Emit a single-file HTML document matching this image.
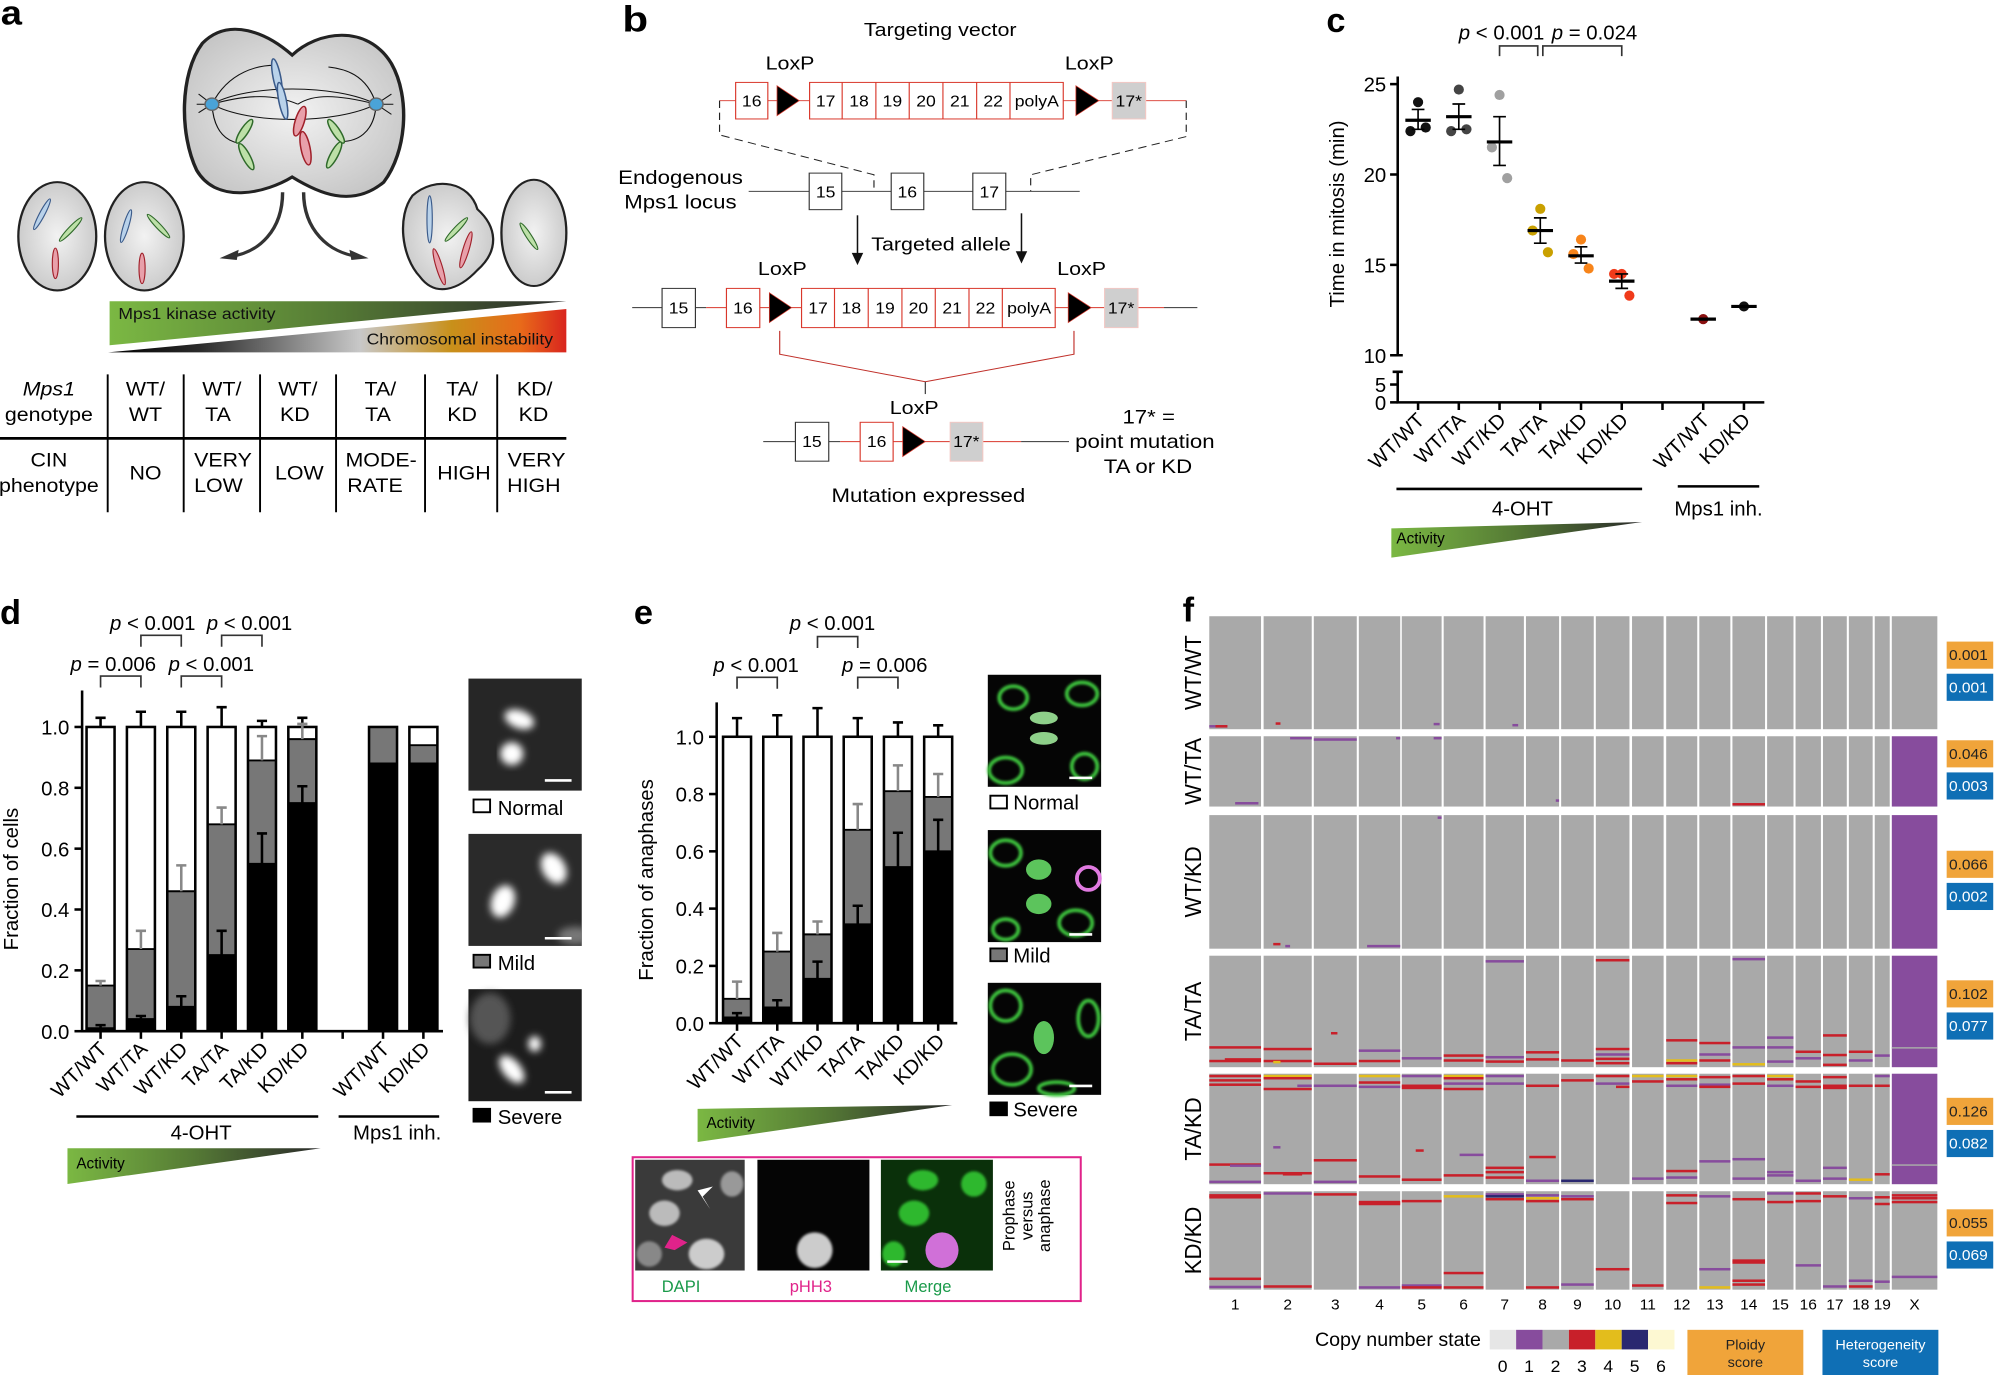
<!DOCTYPE html>
<html><head><meta charset="utf-8"><title>Mps1 figure</title>
<style>
html,body{margin:0;padding:0;background:#fff;}
svg{display:block;}
text{font-family:"Liberation Sans",Arial,sans-serif;}
</style></head>
<body>
<svg id="fig" xmlns="http://www.w3.org/2000/svg" width="1996" height="1375" viewBox="0 0 1568 1080">
<defs>
 <linearGradient id="gAct" x1="0" x2="1" y1="0" y2="0"><stop offset="0" stop-color="#7bb843"/><stop offset="0.5" stop-color="#557a35"/><stop offset="1" stop-color="#2a2a2a"/></linearGradient>
 <linearGradient id="gCin" x1="0" x2="1" y1="0" y2="0"><stop offset="0" stop-color="#000"/><stop offset="0.2" stop-color="#2b2b2b"/><stop offset="0.55" stop-color="#c8c8c8"/><stop offset="0.75" stop-color="#c8901a"/><stop offset="0.9" stop-color="#e86a1a"/><stop offset="1" stop-color="#d9251e"/></linearGradient>
 <radialGradient id="gCell" cx="0.5" cy="0.5" r="0.6"><stop offset="0" stop-color="#f2f2f2"/><stop offset="1" stop-color="#c4c4c4"/></radialGradient>
 <filter id="blur3"><feGaussianBlur stdDeviation="3"/></filter>
 <filter id="blur1"><feGaussianBlur stdDeviation="1"/></filter>
 <clipPath id="clipMild"><rect x="368" y="655" width="89" height="88"/></clipPath>
</defs>

<!-- ================= PANEL A ================= -->
<g id="panel-a" transform="translate(0,-6) scale(0.3,0.266)">
 <text x="2" y="95" font-size="100" font-weight="bold">a</text>
 <path d="M530,150 C600,70 700,120 765,185 C830,115 960,90 1025,210 C1075,310 1065,470 1005,560 C920,640 830,590 765,545 C700,590 570,630 515,525 C470,420 470,240 530,150Z" fill="url(#gCell)" stroke="#222" stroke-width="9"/>
 <g fill="none" stroke="#111" stroke-width="3">
  <path d="M555,330 C650,270 880,270 985,330"/><path d="M555,330 C650,390 880,390 985,330"/>
  <path d="M555,330 C600,230 680,215 720,215"/><path d="M985,330 C960,240 900,225 860,220"/>
  <path d="M555,330 C650,300 720,300 780,330"/><path d="M985,330 C880,300 820,300 780,330"/>
  <path d="M555,330 C560,420 600,440 625,445"/><path d="M985,330 C980,420 930,440 895,440"/>
  <path d="M555,330 L520,300 M555,330 L515,330 M555,330 L520,355"/><path d="M985,330 L1025,300 M985,330 L1030,330 M985,330 L1025,360"/>
 </g>
 <circle cx="555" cy="330" r="18" fill="#4aa3d8" stroke="#666" stroke-width="4"/>
 <circle cx="985" cy="330" r="18" fill="#4aa3d8" stroke="#666" stroke-width="4"/>
 <g stroke-width="4">
  <ellipse cx="725" cy="250" rx="10" ry="55" fill="#b9d2ea" stroke="#3a5a8a" transform="rotate(-10 725 250)"/>
  <ellipse cx="740" cy="320" rx="10" ry="55" fill="#b9d2ea" stroke="#3a5a8a" transform="rotate(-10 740 320)"/>
  <ellipse cx="785" cy="380" rx="12" ry="45" fill="#e8a0aa" stroke="#a0202a" transform="rotate(15 785 380)"/>
  <ellipse cx="800" cy="460" rx="12" ry="50" fill="#e8a0aa" stroke="#a0202a" transform="rotate(-10 800 460)"/>
  <ellipse cx="640" cy="410" rx="10" ry="40" fill="#bde0a8" stroke="#2f6a2a" transform="rotate(30 640 410)"/>
  <ellipse cx="645" cy="485" rx="10" ry="42" fill="#bde0a8" stroke="#2f6a2a" transform="rotate(-25 645 485)"/>
  <ellipse cx="880" cy="410" rx="10" ry="40" fill="#bde0a8" stroke="#2f6a2a" transform="rotate(-30 880 410)"/>
  <ellipse cx="875" cy="480" rx="10" ry="42" fill="#bde0a8" stroke="#2f6a2a" transform="rotate(25 875 480)"/>
 </g>
 <g fill="url(#gCell)" stroke="#222" stroke-width="6">
  <ellipse cx="150" cy="720" rx="102" ry="160"/>
  <ellipse cx="378" cy="720" rx="103" ry="160"/>
  <path d="M1080,600 C1140,540 1230,560 1250,640 C1300,690 1310,760 1250,820 C1200,880 1140,900 1100,840 C1050,780 1040,660 1080,600Z"/>
  <ellipse cx="1398" cy="710" rx="85" ry="157"/>
 </g>
 <g stroke-width="3">
  <ellipse cx="110" cy="655" rx="7" ry="50" fill="#b9d2ea" stroke="#3a5a8a" transform="rotate(25 110 655)"/>
  <ellipse cx="185" cy="700" rx="7" ry="45" fill="#bde0a8" stroke="#2f6a2a" transform="rotate(40 185 700)"/>
  <ellipse cx="145" cy="800" rx="8" ry="45" fill="#e8a0aa" stroke="#a0202a"/>
  <ellipse cx="330" cy="690" rx="7" ry="50" fill="#b9d2ea" stroke="#3a5a8a" transform="rotate(15 330 690)"/>
  <ellipse cx="415" cy="690" rx="7" ry="45" fill="#bde0a8" stroke="#2f6a2a" transform="rotate(-40 415 690)"/>
  <ellipse cx="372" cy="815" rx="8" ry="45" fill="#e8a0aa" stroke="#a0202a"/>
  <ellipse cx="1125" cy="670" rx="7" ry="70" fill="#b9d2ea" stroke="#3a5a8a"/>
  <ellipse cx="1150" cy="810" rx="8" ry="55" fill="#e8a0aa" stroke="#a0202a" transform="rotate(-15 1150 810)"/>
  <ellipse cx="1220" cy="760" rx="8" ry="55" fill="#e8a0aa" stroke="#a0202a" transform="rotate(15 1220 760)"/>
  <ellipse cx="1195" cy="700" rx="7" ry="45" fill="#bde0a8" stroke="#2f6a2a" transform="rotate(40 1195 700)"/>
  <ellipse cx="1385" cy="720" rx="7" ry="45" fill="#bde0a8" stroke="#2f6a2a" transform="rotate(-30 1385 720)"/>
 </g>
 <g fill="none" stroke="#333" stroke-width="9">
  <path d="M740,590 C740,700 680,770 600,780"/><path d="M795,590 C795,700 860,770 940,780"/>
 </g>
 <polygon points="575,785 625,760 620,790" fill="#333"/><polygon points="965,785 915,760 920,790" fill="#333"/>
 <polygon points="287,912 1483,912 287,1042" fill="url(#gAct)"/>
 <polygon points="283,1063 1483,935 1483,1063" fill="url(#gCin)"/>
 <text x="310" y="965" font-size="46" fill="#111">Mps1 kinase activity</text>
 <text x="1448" y="1040" font-size="46" fill="#111" text-anchor="end">Chromosomal instability</text>
 <g font-size="56" text-anchor="middle" fill="#000">
  <g stroke="#000" stroke-width="5">
   <line x1="282" y1="1128" x2="282" y2="1535"/><line x1="481" y1="1128" x2="481" y2="1535"/><line x1="681" y1="1128" x2="681" y2="1535"/>
   <line x1="880" y1="1128" x2="880" y2="1535"/><line x1="1113" y1="1128" x2="1113" y2="1535"/><line x1="1302" y1="1128" x2="1302" y2="1535"/>
   <line x1="0" y1="1317" x2="1483" y2="1317" stroke-width="8"/>
  </g>
  <text x="128" y="1190" font-style="italic">Mps1</text><text x="128" y="1265">genotype</text>
  <text x="128" y="1400">CIN</text><text x="128" y="1475">phenotype</text>
  <text x="381" y="1190">WT/</text><text x="381" y="1265">WT</text>
  <text x="581" y="1190">WT/</text><text x="571" y="1265">TA</text>
  <text x="780" y="1190">WT/</text><text x="772" y="1265">KD</text>
  <text x="996" y="1190">TA/</text><text x="990" y="1265">TA</text>
  <text x="1210" y="1190">TA/</text><text x="1210" y="1265">KD</text>
  <text x="1400" y="1190">KD/</text><text x="1397" y="1265">KD</text>
  <text x="381" y="1438">NO</text>
  <text x="584" y="1400">VERY</text><text x="572" y="1475">LOW</text>
  <text x="784" y="1438">LOW</text>
  <text x="998" y="1400">MODE-</text><text x="982" y="1475">RATE</text>
  <text x="1215" y="1438">HIGH</text>
  <text x="1405" y="1400">VERY</text><text x="1398" y="1475">HIGH</text>
 </g>
</g>

<!-- ================= PANEL B ================= -->
<g id="panel-b" transform="translate(487,1.5) scale(0.301,0.261)" font-size="46" text-anchor="middle">
 <text x="40" y="88" font-size="110" font-weight="bold">b</text>
 <text x="836" y="103" font-size="56">Targeting vector</text>
 <text x="444" y="203" font-size="56">LoxP</text><text x="1225" y="203" font-size="56">LoxP</text>
 <g>
  <line x1="260" y1="297" x2="1478" y2="297" stroke="#d9372b" stroke-width="3"/>
  <g fill="#fff" stroke="#d9372b" stroke-width="3">
   <rect x="302" y="242" width="84" height="110"/>
   <rect x="495" y="242" width="662" height="110"/>
  </g>
  <g stroke="#d9372b" stroke-width="3"><line x1="580" y1="242" x2="580" y2="352"/><line x1="668" y1="242" x2="668" y2="352"/><line x1="755" y1="242" x2="755" y2="352"/><line x1="843" y1="242" x2="843" y2="352"/><line x1="931" y1="242" x2="931" y2="352"/><line x1="1018" y1="242" x2="1018" y2="352"/></g>
  <rect x="1285" y="242" width="87" height="110" fill="#cfcfcf" stroke="#f2c8c4" stroke-width="3"/>
  <polygon points="410,252 468,297 410,342" fill="#000" stroke="#d9372b" stroke-width="2"/>
  <polygon points="1190,252 1250,297 1190,342" fill="#000" stroke="#d9372b" stroke-width="2"/>
  <g font-size="46"><text x="344" y="314">16</text><text x="537" y="314">17</text><text x="624" y="314">18</text><text x="711" y="314">19</text><text x="799" y="314">20</text><text x="887" y="314">21</text><text x="974" y="314">22</text><text x="1088" y="314">polyA</text><text x="1328" y="314">17*</text></g>
  <path d="M260,297 L260,400 L663,520 L663,570 M1478,297 L1478,405 L1072,520 L1072,570" fill="none" stroke="#222" stroke-width="3" stroke-dasharray="22,14"/>
 </g>
 <g>
  <text x="158" y="548" font-size="58">Endogenous</text><text x="158" y="622" font-size="58">Mps1 locus</text>
  <line x1="336" y1="570" x2="1200" y2="570" stroke="#444" stroke-width="3"/>
  <g fill="#fff" stroke="#333" stroke-width="3"><rect x="494" y="515" width="85" height="110"/><rect x="708" y="515" width="85" height="110"/><rect x="921" y="515" width="86" height="110"/></g>
  <text x="537" y="588">15</text><text x="750" y="588">16</text><text x="964" y="588">17</text>
 </g>
 <g stroke="#111" stroke-width="4">
  <line x1="620" y1="642" x2="620" y2="760"/><line x1="1048" y1="636" x2="1048" y2="755"/>
 </g>
 <polygon points="605,755 635,755 620,792" fill="#111"/><polygon points="1033,750 1063,750 1048,787" fill="#111"/>
 <text x="838" y="748" font-size="56">Targeted allele</text>
 <text x="424" y="822" font-size="56">LoxP</text><text x="1205" y="822" font-size="56">LoxP</text>
 <g>
  <line x1="32" y1="920" x2="225" y2="920" stroke="#333" stroke-width="3"/>
  <line x1="225" y1="920" x2="1420" y2="920" stroke="#d9372b" stroke-width="3"/>
  <line x1="1420" y1="920" x2="1507" y2="920" stroke="#333" stroke-width="3"/>
  <rect x="110" y="862" width="87" height="118" fill="#fff" stroke="#333" stroke-width="3"/>
  <rect x="278" y="862" width="87" height="118" fill="#fff" stroke="#d9372b" stroke-width="3"/>
  <rect x="474" y="862" width="662" height="118" fill="#fff" stroke="#d9372b" stroke-width="3"/>
  <g stroke="#d9372b" stroke-width="3"><line x1="560" y1="862" x2="560" y2="980"/><line x1="648" y1="862" x2="648" y2="980"/><line x1="736" y1="862" x2="736" y2="980"/><line x1="823" y1="862" x2="823" y2="980"/><line x1="911" y1="862" x2="911" y2="980"/><line x1="998" y1="862" x2="998" y2="980"/></g>
  <rect x="1265" y="862" width="87" height="118" fill="#cfcfcf" stroke="#f2c8c4" stroke-width="3"/>
  <polygon points="390,875 448,920 390,965" fill="#000" stroke="#d9372b" stroke-width="2"/>
  <polygon points="1170,875 1230,920 1170,965" fill="#000" stroke="#d9372b" stroke-width="2"/>
  <text x="153" y="937">15</text><text x="321" y="937">16</text><text x="517" y="937">17</text><text x="604" y="937">18</text><text x="692" y="937">19</text><text x="779" y="937">20</text><text x="867" y="937">21</text><text x="954" y="937">22</text><text x="1068" y="937">polyA</text><text x="1308" y="937">17*</text>
  <path d="M417,990 L417,1060 L797,1143 L1185,1060 L1185,990" fill="none" stroke="#c0302a" stroke-width="3"/>
  <line x1="797" y1="1143" x2="797" y2="1180" stroke="#333" stroke-width="3"/>
 </g>
 <text x="768" y="1240" font-size="56">LoxP</text>
 <g>
  <line x1="374" y1="1323" x2="575" y2="1323" stroke="#333" stroke-width="3"/>
  <line x1="575" y1="1323" x2="1047" y2="1323" stroke="#d9372b" stroke-width="3"/>
  <line x1="1047" y1="1323" x2="1172" y2="1323" stroke="#333" stroke-width="3"/>
  <rect x="458" y="1265" width="87" height="117" fill="#fff" stroke="#333" stroke-width="3"/>
  <rect x="627" y="1265" width="86" height="117" fill="#fff" stroke="#d9372b" stroke-width="3"/>
  <polygon points="738,1278 797,1323 738,1368" fill="#000" stroke="#d9372b" stroke-width="2"/>
  <rect x="862" y="1265" width="85" height="117" fill="#cfcfcf" stroke="#f2c8c4" stroke-width="3"/>
  <text x="501" y="1340">15</text><text x="670" y="1340">16</text><text x="904" y="1340">17*</text>
 </g>
 <g font-size="58"><text x="1380" y="1268">17* =</text><text x="1370" y="1343">point mutation</text><text x="1378" y="1418">TA or KD</text></g>
 <text x="805" y="1505" font-size="58">Mutation expressed</text>
</g>

<text x="1042" y="25" font-size="27" font-weight="bold">c</text>
<text x="0" y="490" font-size="27" font-weight="bold">d</text>
<text x="498" y="490" font-size="27" font-weight="bold">e</text>
<text x="929" y="488" font-size="27" font-weight="bold">f</text>

<g id="panel-c"></g>
<g id="panel-d"></g>
<g id="panel-e"></g>
<g id="panel-f" transform="translate(926.4,463.5) scale(0.4065,0.3945)"></g>

<g>
 <rect x="368" y="533" width="89" height="88" fill="#262626"/>
 <g filter="url(#blur3)" fill="#fff"><ellipse cx="408" cy="565" rx="12" ry="7" transform="rotate(20 408 565)"/><ellipse cx="402" cy="592" rx="9" ry="9"/></g>
 <line x1="428" y1="613" x2="449" y2="613" stroke="#fff" stroke-width="2"/>
 <rect x="368" y="655" width="89" height="88" fill="#2a2a2a"/>
 <g clip-path="url(#clipMild)"><g filter="url(#blur3)" fill="#fff"><ellipse cx="435" cy="682" rx="9" ry="13" transform="rotate(-30 435 682)"/><ellipse cx="395" cy="708" rx="9" ry="13" transform="rotate(20 395 708)"/><ellipse cx="452" cy="735" rx="14" ry="7" fill="#777"/></g></g>
 <line x1="428" y1="737" x2="449" y2="737" stroke="#fff" stroke-width="2"/>
 <rect x="368" y="777" width="89" height="88" fill="#1c1c1c"/>
 <g filter="url(#blur3)"><ellipse cx="385" cy="800" rx="16" ry="20" fill="#555"/><ellipse cx="402" cy="840" rx="7" ry="13" fill="#fff" transform="rotate(-40 402 840)"/><ellipse cx="420" cy="820" rx="5" ry="6" fill="#fff"/></g>
 <line x1="428" y1="858" x2="449" y2="858" stroke="#fff" stroke-width="2"/>
 <rect x="372" y="628" width="13" height="10" fill="#fff" stroke="#000" stroke-width="1.5"/><text x="391" y="640" font-size="16">Normal</text>
 <rect x="372" y="750" width="13" height="10" fill="#777" stroke="#000" stroke-width="1.5"/><text x="391" y="762" font-size="16">Mild</text>
 <rect x="372" y="871" width="13" height="10" fill="#000" stroke="#000" stroke-width="1.5"/><text x="391" y="883" font-size="16">Severe</text>
</g>
<g>
 <rect x="776" y="530" width="89" height="88" fill="#050505"/>
 <g fill="none" stroke="#3ec43e" stroke-width="3" filter="url(#blur1)">
  <ellipse cx="796" cy="548" rx="11" ry="9"/><ellipse cx="850" cy="545" rx="12" ry="9"/><ellipse cx="790" cy="605" rx="13" ry="10"/><ellipse cx="852" cy="602" rx="10" ry="10"/>
 </g>
 <ellipse cx="820" cy="564" rx="11" ry="5" fill="#8ed08a"/><ellipse cx="820" cy="580" rx="11" ry="5" fill="#8ed08a"/>
 <line x1="840" y1="611" x2="858" y2="611" stroke="#fff" stroke-width="2"/>
 <rect x="776" y="652" width="89" height="88" fill="#050505"/>
 <g fill="none" stroke="#3ec43e" stroke-width="3" filter="url(#blur1)"><ellipse cx="790" cy="670" rx="12" ry="10"/><ellipse cx="845" cy="725" rx="13" ry="10"/><ellipse cx="790" cy="730" rx="10" ry="8"/></g>
 <ellipse cx="816" cy="683" rx="10" ry="8" fill="#5cc45c"/><ellipse cx="816" cy="710" rx="10" ry="8" fill="#5cc45c"/>
 <circle cx="855" cy="690" r="9" fill="none" stroke="#e07ae0" stroke-width="3"/>
 <line x1="840" y1="734" x2="858" y2="734" stroke="#fff" stroke-width="2"/>
 <rect x="776" y="772" width="89" height="88" fill="#050505"/>
 <g fill="none" stroke="#3ec43e" stroke-width="3" filter="url(#blur1)"><ellipse cx="790" cy="790" rx="12" ry="12"/><ellipse cx="795" cy="840" rx="15" ry="12"/><ellipse cx="830" cy="855" rx="14" ry="5"/><ellipse cx="855" cy="800" rx="8" ry="14"/></g>
 <ellipse cx="820" cy="815" rx="8" ry="13" fill="#5cc45c"/>
 <line x1="840" y1="853" x2="858" y2="853" stroke="#fff" stroke-width="2"/>
 <rect x="778" y="625" width="13" height="10" fill="#fff" stroke="#000" stroke-width="1.5"/><text x="796" y="636" font-size="16">Normal</text>
 <rect x="778" y="745" width="13" height="10" fill="#777" stroke="#000" stroke-width="1.5"/><text x="796" y="756" font-size="16">Mild</text>
 <rect x="778" y="866" width="13" height="10" fill="#000" stroke="#000" stroke-width="1.5"/><text x="796" y="877" font-size="16">Severe</text>
</g>
<g>
 <rect x="497" y="909" width="352" height="113" fill="#fff" stroke="#e0238a" stroke-width="1.6"/>
 <rect x="499" y="911" width="86" height="87" fill="#3a3a3a"/>
 <g fill="#bbb" filter="url(#blur1)"><ellipse cx="532" cy="927" rx="12" ry="8"/><ellipse cx="522" cy="953" rx="12" ry="10"/><ellipse cx="555" cy="985" rx="14" ry="12" fill="#ccc"/><ellipse cx="575" cy="930" rx="9" ry="10" fill="#999"/><ellipse cx="510" cy="985" rx="10" ry="10" fill="#888"/></g>
 <polygon points="548,935 560,932 552,940 558,950" fill="#fff"/>
 <polygon points="528,970 540,976 530,982 522,980" fill="#e0238a"/>
 <rect x="595" y="911" width="88" height="87" fill="#050505"/>
 <ellipse cx="640" cy="982" rx="14" ry="14" fill="#ccc" filter="url(#blur1)"/>
 <rect x="692" y="911" width="88" height="87" fill="#0a300a"/>
 <g fill="#2fb82f" filter="url(#blur1)"><ellipse cx="725" cy="927" rx="12" ry="8"/><ellipse cx="718" cy="953" rx="12" ry="10"/><ellipse cx="765" cy="930" rx="10" ry="10"/><ellipse cx="702" cy="985" rx="9" ry="10"/></g>
 <ellipse cx="740" cy="982" rx="13" ry="14" fill="#d070d8"/>
 <line x1="697" y1="991" x2="713" y2="991" stroke="#fff" stroke-width="2"/>
 <text x="535" y="1015" font-size="13" fill="#1a9a4a" text-anchor="middle">DAPI</text>
 <text x="637" y="1015" font-size="13" fill="#e0238a" text-anchor="middle">pHH3</text>
 <text x="729" y="1015" font-size="13" fill="#1a9a4a" text-anchor="middle">Merge</text>
 <g font-size="13" text-anchor="middle"><text transform="translate(797,955) rotate(-90)">Prophase</text><text transform="translate(811,955) rotate(-90)">versus</text><text transform="translate(825,955) rotate(-90)">anaphase</text></g>
</g>

<script>
// ---------- DATA: panel c ----------
const cCats = ["WT/WT","WT/TA","WT/KD","TA/TA","TA/KD","KD/KD","","WT/WT","KD/KD"];
const cPoints = [[24.0,22.4,22.6],[24.7,22.4,22.5],[24.4,21.5,19.8],[18.1,16.9,15.7],[16.4,15.6,14.8],[14.5,14.5,13.3],[],[12.0],[12.7]];
const cMeans = [23.0,23.2,21.8,16.9,15.5,14.1,null,12.0,12.7];
const cSemHi = [23.6,23.9,23.2,17.6,16.0,14.5,null,null,null];
const cSemLo = [22.5,22.5,20.5,16.2,15.1,13.7,null,null,null];
const cColors = ["#111","#444","#a0a0a0","#c9a000","#f7841a","#f03a1a","","#8a1010","#111"];
const cTicks = [10,15,20,25];
const cTicksLow = [0,5];
// ---------- DATA: panel d ----------
const dCats = ["WT/WT","WT/TA","WT/KD","TA/TA","TA/KD","KD/KD","","WT/WT","KD/KD"];
const dSevere = [0.01,0.04,0.08,0.25,0.55,0.75,null,0.88,0.88];
const dMildTop = [0.15,0.27,0.46,0.68,0.89,0.96,null,1.0,0.94];
const dErrTotal = [1.03,1.05,1.05,1.065,1.02,1.03,null,null,null];
const dErrMild = [0.165,0.33,0.545,0.735,0.97,1.01,null,null,null];
const dErrSevere = [0.02,0.05,0.115,0.33,0.65,0.805,null,null,null];
const dTicks = [0,0.2,0.4,0.6,0.8,1.0];
// ---------- DATA: panel e ----------
const eCats = ["WT/WT","WT/TA","WT/KD","TA/TA","TA/KD","KD/KD"];
const eSevere = [0.02,0.055,0.155,0.345,0.545,0.6];
const eMildTop = [0.085,0.25,0.31,0.675,0.81,0.79];
const eErrTotal = [1.065,1.075,1.1,1.065,1.05,1.04];
const eErrMild = [0.145,0.315,0.355,0.765,0.9,0.87];
const eErrSevere = [0.035,0.08,0.215,0.41,0.665,0.71];
const eTicks = [0,0.2,0.4,0.6,0.8,1.0];
// ---------- DATA: panel f ----------
const fGenotypes = ["WT/WT","WT/TA","WT/KD","TA/TA","TA/KD","KD/KD"];
const fChroms = ["1","2","3","4","5","6","7","8","9","10","11","12","13","14","15","16","17","18","19","X"];
const fPloidy = ["0.001","0.046","0.066","0.102","0.126","0.055"];
const fHetero = ["0.001","0.003","0.002","0.077","0.082","0.069"];
const fStateColors = ["#e6e6e6","#874c9d","#a9a9a9","#c8202a","#e3bd1c","#2a2870","#fdf8d2"];
const fStateLabels = ["0","1","2","3","4","5","6"];
const fXBase = [2,1,1,1,1,2];
const fEvents = [
 [0,0,0.985,1,0,0.35],[0,0,0.985,3,0.12,0.35],[0,1,0.96,3,0.25,0.35],[0,4,0.965,1,0.8,0.95],[0,6,0.975,1,0.7,0.85],
 [1,1,0.01,1,0.55,1],[1,2,0.03,1,0,1],[1,0,0.97,1,0.5,0.95],[1,13,0.985,3,0,1],[1,3,0.01,1,0.9,1],[1,4,0.01,1,0.8,1],[1,7,0.93,1,0.9,1],
 [2,1,0.975,3,0.2,0.35],[2,1,0.99,1,0.45,0.55],[2,3,0.99,1,0.2,1],[2,4,0.01,1,0.9,1],
 [3,0,0.83,3,0,1],[3,0,0.955,3,0,1],[3,0,0.94,3,0.3,1],[3,1,0.845,3,0,1],[3,1,0.955,3,0,1],[3,1,0.965,4,0.2,0.35],[3,2,0.7,3,0.4,0.55],[3,2,0.98,3,0,1],
 [3,3,0.86,1,0,1],[3,3,0.955,3,0,1],[3,4,0.93,1,0,1],[3,5,0.905,3,0,1],[3,5,0.95,3,0,1],[3,6,0.04,1,0,1],[3,6,0.92,1,0,1],[3,6,0.96,3,0,1],
 [3,7,0.875,3,0,1],[3,7,0.94,3,0,1],[3,8,0.95,3,0,1],[3,9,0.03,3,0,1],[3,9,0.845,3,0,1],[3,9,0.895,1,0,1],[3,9,0.935,3,0,1],[3,9,0.975,3,0,1],
 [3,11,0.765,3,0,1],[3,11,0.95,4,0,1],[3,11,0.975,3,0,1],[3,12,0.79,3,0,1],[3,12,0.895,1,0,1],[3,12,0.95,3,0,1],[3,13,0.02,1,0,1],[3,13,0.83,1,0,1],
 [3,13,0.985,4,0,1],[3,14,0.74,1,0,1],[3,14,0.83,1,0,1],[3,14,0.96,1,0,1],[3,15,0.87,3,0,1],[3,15,0.93,1,0,1],[3,16,0.72,3,0,1],[3,16,0.9,3,0,1],
 [3,16,0.99,3,0,1],[3,17,0.87,3,0,1],[3,17,0.95,1,0,1],[3,18,0.905,1,0,1],
 [4,0,0.01,3,0,1],[4,0,0.05,3,0,1],[4,0,0.09,3,0,1],[4,0,0.83,3,0,1],[4,0,0.84,1,0.4,1],[4,0,0.99,1,0,1],
 [4,1,0.01,4,0,1],[4,1,0.03,3,0,1],[4,1,0.13,3,0,1],[4,1,0.1,1,0.7,1],[4,1,0.91,3,0,1],[4,1,0.92,3,0.4,0.8],[4,1,0.67,1,0.2,0.35],
 [4,2,0.1,1,0,1],[4,2,0.79,3,0,1],[4,2,0.99,1,0,1],[4,3,0.01,4,0,1],[4,3,0.07,3,0,1],[4,3,0.11,1,0,1],[4,3,0.94,3,0,1],
 [4,4,0.01,1,0,1],[4,4,0.1,3,0,1],[4,4,0.12,3,0,1],[4,4,0.97,3,0,1],[4,4,0.7,3,0.35,0.55],
 [4,5,0.01,4,0,1],[4,5,0.03,3,0,1],[4,5,0.08,1,0,1],[4,5,0.13,3,0,1],[4,5,0.74,1,0.4,1],[4,5,0.93,3,0,1],
 [4,6,0.01,1,0,1],[4,6,0.08,1,0,1],[4,6,0.86,3,0,1],[4,6,0.9,3,0,1],[4,6,0.95,3,0,1],[4,7,0.1,3,0,1],[4,7,0.76,3,0.1,0.9],[4,7,0.98,1,0,1],
 [4,8,0.05,3,0,1],[4,8,0.98,5,0,1],[4,9,0.01,3,0,1],[4,9,0.08,1,0,1],[4,9,0.11,3,0.6,1],[4,10,0.01,4,0,1],[4,10,0.06,3,0,1],[4,10,0.96,1,0,1],
 [4,11,0.01,4,0,1],[4,11,0.04,3,0,1],[4,11,0.1,1,0,1],[4,11,0.89,3,0,1],[4,11,0.95,1,0,1],[4,12,0.02,3,0,1],[4,12,0.09,1,0,1],[4,12,0.11,3,0,1],[4,12,0.8,1,0,1],
 [4,13,0.01,3,0,1],[4,13,0.08,3,0,1],[4,13,0.78,1,0,1],[4,13,0.96,1,0,1],[4,14,0.01,4,0,1],[4,14,0.04,3,0,1],[4,14,0.1,1,0,1],[4,14,0.9,1,0,1],[4,14,0.93,1,0,1],
 [4,15,0.06,3,0,1],[4,15,0.11,3,0,1],[4,15,0.98,1,0,1],[4,16,0.02,3,0,1],[4,16,0.1,3,0,1],[4,16,0.12,3,0,1],[4,16,0.86,1,0,1],[4,16,0.96,1,0,1],
 [4,17,0.1,3,0,1],[4,17,0.97,4,0,1],[4,18,0.01,1,0,1],[4,18,0.1,3,0,1],[4,18,0.92,3,0,1],
 [5,0,0.03,3,0,1],[5,0,0.05,3,0,1],[5,0,0.9,3,0,1],[5,0,0.985,1,0,1],[5,1,0.01,1,0,1],[5,1,0.98,3,0,1],[5,2,0.02,3,0,1],
 [5,3,0.1,3,0,1],[5,3,0.12,3,0,1],[5,3,0.99,1,0,1],[5,4,0.09,3,0,1],[5,4,0.97,1,0,1],[5,4,0.99,3,0,1],[5,5,0.04,4,0,1],[5,5,0.84,3,0,1],[5,5,0.99,3,0,1],
 [5,6,0.02,1,0,1],[5,6,0.04,5,0,1],[5,6,0.07,3,0,1],[5,7,0.03,1,0,1],[5,7,0.06,4,0,1],[5,7,0.09,3,0,1],[5,7,0.99,3,0,1],[5,8,0.04,1,0,1],[5,8,0.07,3,0,1],[5,8,0.96,1,0,1],
 [5,9,0.8,3,0,1],[5,10,0.97,3,0,1],[5,11,0.03,3,0,1],[5,11,0.11,3,0,1],[5,12,0.04,1,0,1],[5,12,0.8,1,0,1],[5,12,0.99,4,0,1],
 [5,13,0.07,3,0,1],[5,13,0.71,3,0,1],[5,13,0.73,3,0,1],[5,13,0.92,3,0,1],[5,13,0.96,3,0,1],[5,14,0.01,1,0,1],[5,14,0.1,3,0,1],[5,15,0.01,3,0,1],[5,15,0.09,3,0,1],[5,15,0.76,1,0,1],
 [5,16,0.04,3,0,1],[5,16,0.98,1,0,1],[5,17,0.06,1,0,1],[5,17,0.92,1,0,1],[5,17,0.98,3,0,1],[5,18,0.05,3,0,1],[5,18,0.12,3,0,1],[5,18,0.93,1,0,1],
 [5,19,0.03,3,0,1],[5,19,0.06,3,0,1],[5,19,0.1,3,0,1],[5,19,0.88,1,0,1]
];

const NS = "http://www.w3.org/2000/svg";
function mk(tag, attrs, parent) {
  const e = document.createElementNS(NS, tag);
  for (const k in attrs) e.setAttribute(k, attrs[k]);
  parent.appendChild(e);
  return e;
}
function txt(str, attrs, parent) { const t = mk("text", attrs, parent); t.textContent = str; return t; }
function pText(label, attrs, parent) {
  const t = mk("text", attrs, parent);
  const ts = document.createElementNS(NS, "tspan");
  ts.setAttribute("font-style", "italic");
  ts.textContent = "p";
  t.appendChild(ts);
  t.appendChild(document.createTextNode(" " + label));
  return t;
}

// ================= PANEL C =================
(function () {
  const g = document.getElementById("panel-c");
  const x0 = 1114, dx = 32;
  const xC = i => x0 + i * dx;
  const yC = v => 279 - (v - 10) * 14.2;
  const yLow = v => 316 - v * 2.8;
  let ax = mk("path", {d: "M1098,60 L1098,279 M1094,279 L1102,279 M1094,292 L1102,292 M1098,292 L1098,316 L1386,316", fill: "none", stroke: "#000", "stroke-width": 2}, g);
  
  
  cTicks.forEach(v => {
    mk("line", {x1: 1092, x2: 1098, y1: yC(v), y2: yC(v), stroke: "#000", "stroke-width": 2}, g);
    const t = txt(String(v), {x: 1089, y: yC(v) + 6, "font-size": 16, "text-anchor": "end"}, g);
    
    
  });
  cTicksLow.forEach(v => {
    mk("line", {x1: 1092, x2: 1098, y1: yLow(v), y2: yLow(v), stroke: "#000", "stroke-width": 2}, g);
    const t = txt(String(v), {x: 1089, y: yLow(v) + 6, "font-size": 16, "text-anchor": "end"}, g);
    
    
  });
  const yt = txt("Time in mitosis (min)", {transform: "translate(1056,168) rotate(-90)", "font-size": 16, "text-anchor": "middle"}, g);
  
  
  cCats.forEach((c, i) => {
    mk("line", {x1: xC(i), x2: xC(i), y1: 316, y2: 322, stroke: "#000", "stroke-width": 2}, g);
    if (c) {
      const t = txt(c, {transform: `translate(${xC(i) + 6},${331}) rotate(-45)`, "font-size": 16, "text-anchor": "end"}, g);
      
      
    }
    cPoints[i].forEach((v, j) => {
      const off = cPoints[i].length === 3 ? [0, -6, 6][j] : 0;
      const p = mk("circle", {cx: xC(i) + off, cy: yC(v), r: 4, fill: cColors[i]}, g);
      
      
    });
    if (cMeans[i] !== null) {
      const m = mk("line", {x1: xC(i) - 10, x2: xC(i) + 10, y1: yC(cMeans[i]), y2: yC(cMeans[i]), stroke: "#000", "stroke-width": 2.5}, g);
      
      
    }
    if (cSemHi[i] !== null) {
      const e = mk("path", {d: `M${xC(i)},${yC(cSemHi[i])} L${xC(i)},${yC(cSemLo[i])} M${xC(i)-5},${yC(cSemHi[i])} L${xC(i)+5},${yC(cSemHi[i])} M${xC(i)-5},${yC(cSemLo[i])} L${xC(i)+5},${yC(cSemLo[i])}`, stroke: "#000", "stroke-width": 1.3, fill: "none"}, g);
      
      
    }
  });
  mk("line", {x1: 1097, x2: 1290, y1: 384, y2: 384, stroke: "#000", "stroke-width": 2}, g);
  txt("4-OHT", {x: 1196, y: 405, "font-size": 16, "text-anchor": "middle"}, g);
  mk("line", {x1: 1318, x2: 1382, y1: 382, y2: 382, stroke: "#000", "stroke-width": 2}, g);
  txt("Mps1 inh.", {x: 1350, y: 405, "font-size": 16, "text-anchor": "middle"}, g);
  const w = mk("polygon", {points: "1093,415 1290,410 1093,438", fill: "url(#gAct)"}, g);
  
  
  txt("Activity", {x: 1097, y: 427, "font-size": 12}, g);
  mk("path", {d: `M${xC(2)},44 L${xC(2)},36 L${xC(3)-2},36 L${xC(3)-2},44 M${xC(3)+2},44 L${xC(3)+2},36 L${xC(5)},36 L${xC(5)},44`, stroke: "#333", fill: "none", "stroke-width": 1.3}, g);
  const p1 = pText("< 0.001", {x: 1146, y: 31, "font-size": 16}, g);
  
  
  const p2 = pText("= 0.024", {x: 1219, y: 31, "font-size": 16}, g);
  
  
})();

// ================= STACKED BARS =================
function stacked(g, prefix, cats, sev, mild, errT, errM, errS, ticks, yAxisX, y0, scale, xStart, dx, xEnd, title, titleX) {
  const y = v => y0 - v * scale;
  const xB = i => xStart + i * dx;
  const bw = 22;
  const ax = mk("path", {d: `M${yAxisX},${y(1.12)} L${yAxisX},${y0} L${xEnd},${y0}`, fill: "none", stroke: "#000", "stroke-width": 2}, g);
  
  
  ticks.forEach(v => {
    mk("line", {x1: yAxisX - 6, x2: yAxisX, y1: y(v), y2: y(v), stroke: "#000", "stroke-width": 2}, g);
    const t = txt(v.toFixed(1), {x: yAxisX - 10, y: y(v) + 6, "font-size": 16, "text-anchor": "end"}, g);
    
    
  });
  const yt = txt(title, {transform: `translate(${titleX},${y(0.5)}) rotate(-90)`, "font-size": 16, "text-anchor": "middle"}, g);
  
  
  cats.forEach((c, i) => {
    const cx = xB(i);
    mk("line", {x1: cx, x2: cx, y1: y0, y2: y0 + 6, stroke: "#000", "stroke-width": 2}, g);
    if (!c) return;
    const lab = txt(c, {transform: `translate(${cx + 6},${y0 + 15}) rotate(-45)`, "font-size": 16, "text-anchor": "end"}, g);
    
    
    const n = mk("rect", {x: cx - bw / 2, y: y(1), width: bw, height: y(mild[i]) - y(1), fill: "#fff"}, g);
    
    
    const m = mk("rect", {x: cx - bw / 2, y: y(mild[i]), width: bw, height: y(sev[i]) - y(mild[i]), fill: "#777"}, g);
    
    
    const s = mk("rect", {x: cx - bw / 2, y: y(sev[i]), width: bw, height: y0 - y(sev[i]), fill: "#000"}, g);
    
    
    mk("line", {x1: cx - bw / 2, x2: cx + bw / 2, y1: y(mild[i]), y2: y(mild[i]), stroke: "#000", "stroke-width": 1.5}, g);
    mk("line", {x1: cx - bw / 2, x2: cx + bw / 2, y1: y(sev[i]), y2: y(sev[i]), stroke: "#000", "stroke-width": 1.5}, g);
    mk("rect", {x: cx - bw / 2, y: y(1), width: bw, height: y0 - y(1), fill: "none", stroke: "#000", "stroke-width": 2}, g);
    const eb = (from, to, col) => {
      const e = mk("path", {d: `M${cx},${y(from)} L${cx},${y(to)} M${cx - 4},${y(to)} L${cx + 4},${y(to)}`, stroke: col, "stroke-width": 2, fill: "none"}, g);
      
      
    };
    if (errT[i] !== null) eb(1, errT[i], "#000");
    if (errM[i] !== null) eb(mild[i], errM[i], "#888");
    if (errS[i] !== null) eb(sev[i], errS[i], "#000");
  });
  return {xB, y};
}
function bracket(g, x1, x2, yTop, label, tx, ty) {
  mk("path", {d: `M${x1},${yTop + 9} L${x1},${yTop} L${x2},${yTop} L${x2},${yTop + 9}`, stroke: "#333", "stroke-width": 1.3, fill: "none"}, g);
  const t = pText(label, {x: tx, y: ty, "font-size": 16, "text-anchor": "middle"}, g);
  
  
}

(function () {
  const g = document.getElementById("panel-d");
  const r = stacked(g, "d", dCats, dSevere, dMildTop, dErrTotal, dErrMild, dErrSevere, dTicks, 64.5, 810, 239, 79, 31.7, 348, "Fraction of cells", 14);
  bracket(g, r.xB(0), r.xB(1), 531, "= 0.006", 89, 527);
  bracket(g, r.xB(2), r.xB(3), 531, "< 0.001", 166, 527);
  bracket(g, r.xB(1), r.xB(2), 499, "< 0.001", 120, 495);
  bracket(g, r.xB(3), r.xB(4), 499, "< 0.001", 196, 495);
  mk("line", {x1: 60, x2: 250, y1: 877, y2: 877, stroke: "#000", "stroke-width": 2}, g);
  txt("4-OHT", {x: 158, y: 895, "font-size": 16, "text-anchor": "middle"}, g);
  mk("line", {x1: 266, x2: 345, y1: 877, y2: 877, stroke: "#000", "stroke-width": 2}, g);
  txt("Mps1 inh.", {x: 312, y: 895, "font-size": 16, "text-anchor": "middle"}, g);
  const w = mk("polygon", {points: "53,902 252,902 53,930", fill: "url(#gAct)"}, g);
  
  
  txt("Activity", {x: 60, y: 918, "font-size": 12}, g);
})();
(function () {
  const g = document.getElementById("panel-e");
  const r = stacked(g, "e", eCats, eSevere, eMildTop, eErrTotal, eErrMild, eErrSevere, eTicks, 563, 803.7, 225, 579, 31.6, 752, "Fraction of anaphases", 513);
  bracket(g, r.xB(0), r.xB(1), 532, "< 0.001", 594, 528);
  bracket(g, r.xB(2), r.xB(3), 500, "< 0.001", 654, 495);
  bracket(g, r.xB(3), r.xB(4), 532, "= 0.006", 695, 528);
  const w = mk("polygon", {points: "548,871 748,868 548,897", fill: "url(#gAct)"}, g);
  
  
  txt("Activity", {x: 555, y: 886, "font-size": 12}, g);
})();

// ================= PANEL F =================
(function () {
  const g = document.getElementById("panel-f");
  const colL = [58,163,260,347,430,511,592,670,738,805,875,941,1005,1069,1136,1191,1244,1294,1344,1377];
  const colR = [158,256,343,427,507,588,666,734,801,870,936,1001,1065,1132,1187,1240,1290,1340,1373,1465];
  const rowT = [52,291,448,728,963,1197];
  const rowB = [277,431,714,950,1183,1393];
  const lineH = 5;
  fGenotypes.forEach((gt, r) => {
    colL.forEach((xl, c) => {
      const base = c === 19 ? fXBase[r] : 2;
      const cell = mk("rect", {x: xl, y: rowT[r], width: colR[c] - xl, height: rowB[r] - rowT[r], fill: fStateColors[base]}, g);
      
      
    });
    const lab = txt(gt, {transform: `translate(42,${(rowT[r] + rowB[r]) / 2}) rotate(-90)`, "font-size": 44, "text-anchor": "middle"}, g);
    
    
    const midY = (rowT[r] + rowB[r]) / 2;
    const ob = mk("rect", {x: 1483, y: midY - 62, width: 90, height: 54, fill: "#f0a43a"}, g);
    
    
    txt(fPloidy[r], {x: 1525, y: midY - 25, "font-size": 30, "text-anchor": "middle", fill: "#222"}, g);
    const bb = mk("rect", {x: 1483, y: midY + 2, width: 90, height: 54, fill: "#0f6fb5"}, g);
    
    
    txt(fHetero[r], {x: 1525, y: midY + 39, "font-size": 30, "text-anchor": "middle", fill: "#fff"}, g);
  });
  [3, 4].forEach(r => {
    mk("rect", {x: colL[19], y: rowT[r] + (rowB[r] - rowT[r]) * 0.82, width: colR[19] - colL[19], height: 3, fill: "#a9a9a9"}, g);
  });
  fEvents.forEach(ev => {
    const [r, c, yf, st, xf, xt] = ev;
    const w = colR[c] - colL[c];
    const yy = rowT[r] + yf * (rowB[r] - rowT[r] - lineH);
    const s = mk("rect", {x: colL[c] + xf * w, y: yy, width: (xt - xf) * w, height: lineH, fill: fStateColors[st]}, g);
    
    
  });
  fChroms.forEach((c, i) => {
    const t = txt(c, {x: (colL[i] + colR[i]) / 2, y: 1433, "font-size": 30, "text-anchor": "middle"}, g);
    
    
  });
  const lt = txt("Copy number state", {x: 583, y: 1505, "font-size": 38, "text-anchor": "end"}, g);
  
  
  fStateColors.forEach((col, i) => {
    const sw = mk("rect", {x: 600 + i * 51, y: 1473, width: 51, height: 39, fill: col}, g);
    
    
    txt(fStateLabels[i], {x: 625 + i * 51, y: 1557, "font-size": 34, "text-anchor": "middle"}, g);
  });
  const pb = mk("rect", {x: 982, y: 1473, width: 224, height: 100, fill: "#f0a43a"}, g);
  
  
  txt("Ploidy", {x: 1094, y: 1512, "font-size": 28, "text-anchor": "middle", fill: "#222"}, g);
  txt("score", {x: 1094, y: 1547, "font-size": 28, "text-anchor": "middle", fill: "#222"}, g);
  const hb = mk("rect", {x: 1243, y: 1473, width: 224, height: 100, fill: "#0f6fb5"}, g);
  
  
  txt("Heterogeneity", {x: 1355, y: 1512, "font-size": 28, "text-anchor": "middle", fill: "#fff"}, g);
  txt("score", {x: 1355, y: 1547, "font-size": 28, "text-anchor": "middle", fill: "#fff"}, g);
})();
</script>
</svg>
</body></html>
